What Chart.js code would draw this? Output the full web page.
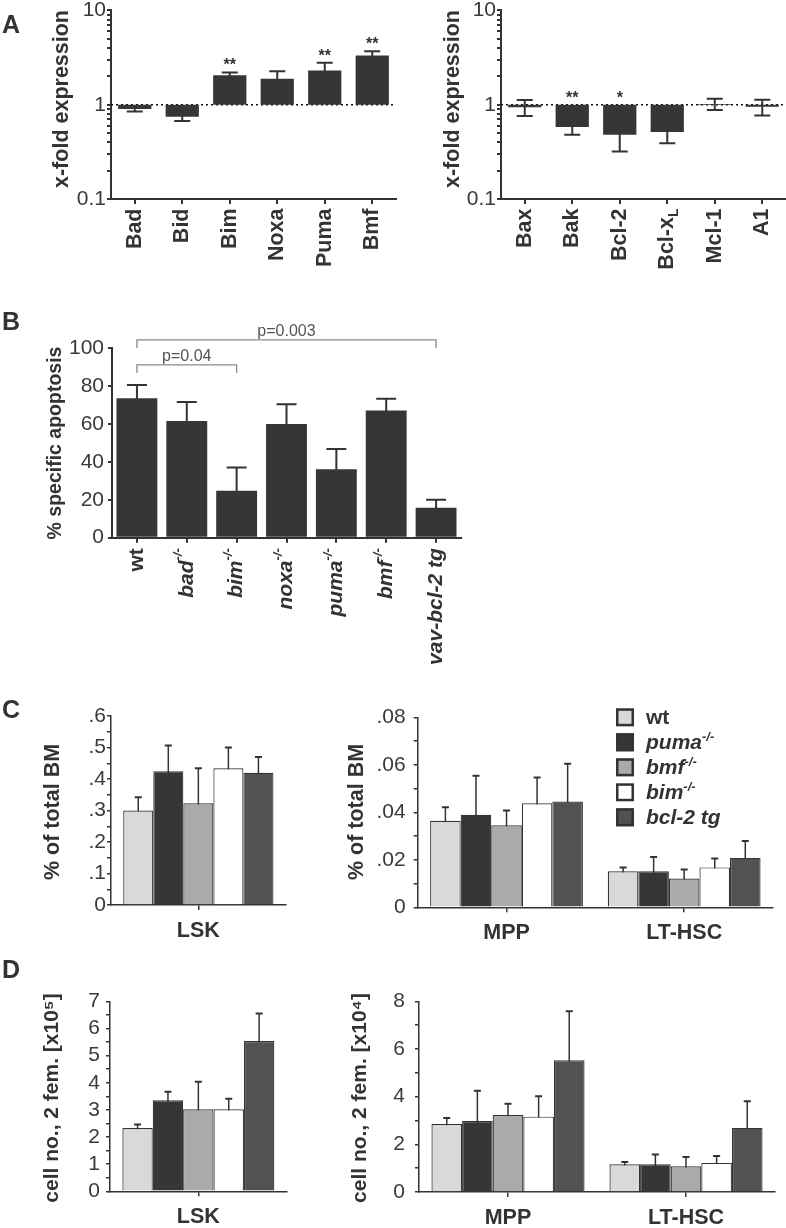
<!DOCTYPE html>
<html>
<head>
<meta charset="utf-8">
<script src="https://cdn.jsdelivr.net/npm/chart.js@4.4.0/dist/chart.umd.min.js"></script>
<style>
  body { margin: 0; background: #fff; width: 786px; height: 1228px; position: relative; overflow: hidden; }
  canvas { position: absolute; }
</style>
</head>
<body>
<canvas id="a1" style="left:0px;top:0px" width="400" height="300"></canvas>
<canvas id="a2" style="left:400px;top:0px" width="386" height="300"></canvas>
<canvas id="b" style="left:0px;top:300px" width="480" height="380"></canvas>
<canvas id="c1" style="left:0px;top:680px" width="300" height="270"></canvas>
<canvas id="c2" style="left:300px;top:680px" width="486" height="270"></canvas>
<canvas id="d1" style="left:0px;top:950px" width="300" height="278"></canvas>
<canvas id="d2" style="left:300px;top:950px" width="486" height="278"></canvas>
<script>
// ---- A: x-fold expression (log scale), pro-apoptotic BH3-only
const genesA1 = ['Bad', 'Bid', 'Bim', 'Noxa', 'Puma', 'Bmf'];
const foldA1 = [0.90, 0.745, 2.05, 1.89, 2.30, 3.32];
const semA1 = [0.05, 0.075, 0.15, 0.37, 0.48, 0.37];
const starsA1 = ['', '', '**', '', '**', '**'];
// ---- A: multi-domain / anti-apoptotic (Bcl-x_L -> subscript L)
const genesA2 = ['Bax', 'Bak', 'Bcl-2', 'Bcl-x_L', 'Mcl-1', 'A1'];
const foldA2 = [0.94, 0.58, 0.48, 0.515, 1.02, 0.95];
const semA2 = [0.18, 0.10, 0.16, 0.125, 0.14, 0.18];
const starsA2 = ['', '**', '*', '', '', ''];
const logTicks = [0.1, 1, 10];
const logTickLabels = ['0.1', '1', '10'];

// ---- B: % specific apoptosis
const genotypesB = ['wt', 'bad', 'bim', 'noxa', 'puma', 'bmf', 'vav-bcl-2 tg'];
const apoptosisB = [73.6, 61.6, 24.8, 60.0, 36.1, 67.1, 15.8];
const semB = [7.0, 10.1, 12.3, 10.4, 10.7, 6.3, 4.3];
const pValuesB = [
  { from: 0, to: 2, text: 'p=0.04', at: 91.2 },
  { from: 0, to: 6, text: 'p=0.003', at: 104.4 }
];
const yTicksB = [0, 20, 40, 60, 80, 100];
const yLabelsB = ['0', '20', '40', '60', '80', '100'];

// ---- C / D: one value per genotype (wt, puma, bmf, bim, bcl-2 tg)
const genotypesCD = ['wt', 'puma', 'bmf', 'bim', 'bcl-2 tg'];
const pctLSK = [0.30, 0.425, 0.323, 0.434, 0.42];
const pctLSKsem = [0.042, 0.081, 0.111, 0.066, 0.05];
const pctMPP = [0.0364, 0.0390, 0.0345, 0.0438, 0.0445];
const pctMPPsem = [0.0057, 0.0164, 0.0063, 0.0109, 0.0159];
const pctLT = [0.0152, 0.0152, 0.0121, 0.0168, 0.0208];
const pctLTsem = [0.0016, 0.0060, 0.0038, 0.0038, 0.0071];
const noLSK = [2.33, 3.35, 3.02, 3.02, 5.54];   // x10^5
const noLSKsem = [0.13, 0.32, 1.02, 0.39, 1.01];
const noMPP = [2.85, 2.98, 3.23, 3.16, 5.53];   // x10^4
const noMPPsem = [0.25, 1.27, 0.47, 0.86, 2.05];
const noLT = [1.16, 1.16, 1.08, 1.22, 2.69];
const noLTsem = [0.10, 0.41, 0.39, 0.29, 1.12];

const yTicksC1 = [0, 0.1, 0.2, 0.3, 0.4, 0.5, 0.6];
const yLabelsC1 = ['0', '.1', '.2', '.3', '.4', '.5', '.6'];
const yTicksC2 = [0, 0.02, 0.04, 0.06, 0.08];
const yLabelsC2 = ['0', '.02', '.04', '.06', '.08'];
const yTicksD1 = [0, 1, 2, 3, 4, 5, 6, 7];
const yLabelsD1 = ['0', '1', '2', '3', '4', '5', '6', '7'];
const yTicksD2 = [0, 2, 4, 6, 8];
const yLabelsD2 = ['0', '2', '4', '6', '8'];

const FONT = '"Liberation Sans", Arial, Helvetica, sans-serif';
const INK = '#333333';
const BAR = '#363636';
const groupColors = ['#d9d9d9', '#363636', '#aaaaaa', '#ffffff', '#525252'];

// rich text: list of {t, font, dy}
function drawParts(ctx, parts, x, y, align) {
  let w = 0;
  parts.forEach(p => { ctx.font = p.font; p.w = ctx.measureText(p.t).width; w += p.w; });
  let cx = align === 'right' ? x - w : (align === 'center' ? x - w / 2 : x);
  ctx.textAlign = 'left';
  parts.forEach(p => { ctx.font = p.font; ctx.fillText(p.t, cx, y + (p.dy || 0)); cx += p.w; });
}
function genoParts(name, size) {
  const up = 'bold ' + size + 'px ' + FONT;
  const it = 'italic bold ' + size + 'px ' + FONT;
  const sup = 'italic bold ' + Math.round(size * 0.6) + 'px ' + FONT;
  if (name === 'wt') return [{ t: name, font: up }];
  if (name.endsWith(' tg')) return [{ t: name, font: it }];
  return [{ t: name, font: it }, { t: '-/-', font: sup, dy: -size * 0.38 }];
}
function geneParts(name, size) {
  const s = name.split('_');
  const parts = [{ t: s[0], font: 'bold ' + size + 'px ' + FONT }];
  if (s[1]) parts.push({ t: s[1], font: 'bold ' + Math.round(size * 0.65) + 'px ' + FONT, dy: size * 0.3 });
  return parts;
}

const decoById = {};
const deco = {
  id: 'deco',
  beforeDatasetsDraw(chart) {
    const o = decoById[chart.canvas.id] || {};
    const ctx = chart.ctx, ys = chart.scales.y, ca = chart.chartArea;
    ctx.save();
    if (o.refLine) {
      const y = ys.getPixelForValue(o.refLine);
      ctx.strokeStyle = '#111'; ctx.lineWidth = 1.5; ctx.setLineDash([2, 3]);
      ctx.beginPath(); ctx.moveTo(ca.left, y); ctx.lineTo(ca.right, y); ctx.stroke();
      ctx.setLineDash([]);
    }
    chart.data.datasets.forEach((ds, di) => {
      if (!ds.sem) return;
      chart.getDatasetMeta(di).data.forEach((el, i) => {
        const m = ds.mean[i], s = ds.sem[i];
        const yt = ys.getPixelForValue(m + s), yb = ys.getPixelForValue(m - s);
        ctx.strokeStyle = INK;
        ctx.lineWidth = o.stemW;
        ctx.beginPath(); ctx.moveTo(el.x, yt); ctx.lineTo(el.x, yb); ctx.stroke();
        ctx.lineWidth = o.capW;
        ctx.beginPath();
        ctx.moveTo(el.x - o.cap, yt); ctx.lineTo(el.x + o.cap, yt);
        ctx.moveTo(el.x - o.cap, yb); ctx.lineTo(el.x + o.cap, yb);
        ctx.stroke();
      });
    });
    ctx.restore();
  },
  afterDraw(chart) {
    const o = decoById[chart.canvas.id] || {};
    const ctx = chart.ctx, xs = chart.scales.x, ys = chart.scales.y, ca = chart.chartArea;
    ctx.save();
    ctx.fillStyle = INK;
    ctx.textBaseline = 'alphabetic';
    if (o.letter) {
      ctx.font = 'bold 25px ' + FONT; ctx.textAlign = 'left';
      ctx.fillText(o.letter.text, o.letter.x, o.letter.y);
    }
    if (o.title) {
      ctx.save();
      ctx.translate(o.title.x, o.title.y); ctx.rotate(-Math.PI / 2);
      ctx.textAlign = 'center'; ctx.textBaseline = 'middle';
      ctx.font = o.title.font;
      ctx.fillText(o.title.text, 0, 0);
      ctx.restore();
    }
    if (o.stars) {
      ctx.font = 'bold 16px ' + FONT; ctx.textAlign = 'center';
      o.stars.labels.forEach((t, i) => {
        if (!t) return;
        const top = Math.min(ys.getPixelForValue(o.stars.mean[i] + o.stars.sem[i]), ys.getPixelForValue(1));
        ctx.fillText(t, xs.getPixelForValue(i), top - 2);
      });
    }
    if (o.xLabels) {
      ctx.fillStyle = INK;
      o.xLabels.names.forEach((n, i) => {
        ctx.save();
        ctx.translate(xs.getPixelForValue(i), ca.bottom + o.xLabels.gap);
        ctx.rotate(-Math.PI / 2);
        ctx.textBaseline = 'middle';
        drawParts(ctx, o.xLabels.parts(n, o.xLabels.size), 0, 0, 'right');
        ctx.restore();
      });
    }
    if (o.brackets) {
      o.brackets.forEach(b => {
        const y = ys.getPixelForValue(b.at);
        const x1 = xs.getPixelForValue(b.from), x2 = xs.getPixelForValue(b.to);
        ctx.strokeStyle = '#8a8a8a'; ctx.lineWidth = 1.3;
        ctx.beginPath();
        ctx.moveTo(x1, y + 8); ctx.lineTo(x1, y); ctx.lineTo(x2, y); ctx.lineTo(x2, y + 8);
        ctx.stroke();
        ctx.fillStyle = '#555'; ctx.font = '16px ' + FONT; ctx.textAlign = 'center';
        ctx.fillText(b.text, (x1 + x2) / 2, y - 4);
      });
    }
    if (o.legend) {
      const L = o.legend;
      chart.data.datasets.forEach((ds, i) => {
        const y = L.y + i * L.step;
        ctx.fillStyle = ds.backgroundColor;
        ctx.fillRect(L.x, y, L.box, L.box);
        ctx.strokeStyle = INK; ctx.lineWidth = 2.5;
        ctx.strokeRect(L.x + 1.25, y + 1.25, L.box - 2.5, L.box - 2.5);
        ctx.fillStyle = INK;
        drawParts(ctx, genoParts(genotypesCD[i], 21), L.textX, y + L.box - 2, 'left');
      });
    }
    ctx.restore();
  }
};

function withMinors(majors) {
  const out = [];
  majors.forEach((v, i) => {
    out.push(v);
    if (i < majors.length - 1) out.push((v + majors[i + 1]) / 2);
  });
  return out;
}
function logMinors(majors) {
  const out = [];
  majors.forEach((v, i) => {
    out.push(v);
    if (i < majors.length - 1) for (let d = 2; d <= 9; d++) out.push(+(v * d).toPrecision(3));
  });
  return out;
}

function makeChart(id, W, H, area, cfg) {
  decoById[id] = cfg.deco;
  const tickFont = { family: FONT, size: 21, lineHeight: 0.9 };
  const allTicks = cfg.minor;
  const yScale = Object.assign({
    grid: { drawOnChartArea: false, tickLength: 4, color: INK, lineWidth: cfg.axisW },
    border: { color: INK, width: cfg.axisW },
    ticks: {
      autoSkip: false, padding: cfg.yPad, font: tickFont, color: '#3a3a3a',
      callback: v => {
        const k = cfg.majors.findIndex(m => Math.abs(m - v) < 1e-9);
        return k >= 0 ? cfg.majorLabels[k] : '';
      }
    },
    afterBuildTicks: s => { s.ticks = allTicks.map(v => ({ value: v })); },
    afterFit: s => { s.width = area.left; }
  }, cfg.y);
  return new Chart(document.getElementById(id), {
    type: 'bar',
    data: { labels: cfg.labels, datasets: cfg.datasets },
    options: {
      responsive: false, animation: false, events: [],
      layout: { padding: { left: 0, top: area.top, right: W - area.right, bottom: 0 } },
      plugins: { legend: { display: false }, tooltip: { enabled: false } },
      scales: {
        x: {
          type: 'category', offset: true,
          grid: { offset: false, drawOnChartArea: false, tickLength: 5, color: INK, lineWidth: cfg.axisW },
          border: { color: INK, width: cfg.axisW },
          ticks: cfg.xTicks,
          afterFit: s => { s.height = H - area.bottom; }
        },
        y: yScale
      }
    },
    plugins: [deco]
  });
}

// ---------- panel A ----------
function logPanel(id, W, area, genes, fold, sem, stars, letter, titleX) {
  makeChart(id, W, 300, area, {
    labels: genes,
    datasets: [{
      data: fold.map(v => [1, v]), mean: fold, sem: sem,
      backgroundColor: BAR, borderWidth: 0, barPercentage: 0.7, categoryPercentage: 1
    }],
    axisW: 2, yPad: 1,
    y: { type: 'logarithmic', min: 0.1, max: 10 },
    majors: logTicks, majorLabels: logTickLabels, minor: logMinors(logTicks),
    xTicks: { display: false },
    deco: {
      letter: letter, refLine: 1, stemW: 2, capW: 2, cap: 8,
      title: { text: 'x-fold expression', x: titleX, y: 99, font: 'bold 21.5px ' + FONT },
      stars: { labels: stars, mean: fold, sem: sem },
      xLabels: { names: genes, gap: 9.5, size: 21.5, parts: geneParts }
    }
  });
}
logPanel('a1', 400, { left: 111, top: 10, right: 396, bottom: 199 }, genesA1, foldA1, semA1, starsA1,
  { text: 'A', x: 2, y: 33 }, 62);
logPanel('a2', 386, { left: 101, top: 10, right: 386, bottom: 199 }, genesA2, foldA2, semA2, starsA2,
  null, 53);

// ---------- panel B ----------
makeChart('b', 480, 380, { left: 112, top: 48.3, right: 461, bottom: 237.7 }, {
  labels: genotypesB,
  datasets: [{
    data: apoptosisB, mean: apoptosisB, sem: semB,
    backgroundColor: BAR, borderWidth: 0, barPercentage: 0.82, categoryPercentage: 1
  }],
  axisW: 2, yPad: 4,
  y: { min: 0, max: 100 },
  majors: yTicksB, majorLabels: yLabelsB, minor: yTicksB,
  xTicks: { display: false },
  deco: {
    letter: { text: 'B', x: 2, y: 30 }, stemW: 2, capW: 2, cap: 10,
    title: { text: '% specific apoptosis', x: 56, y: 143, font: 'bold 19.5px ' + FONT },
    xLabels: { names: genotypesB, gap: 10.5, size: 21, parts: genoParts },
    brackets: pValuesB
  }
});

// ---------- panels C / D ----------
function groupSets(cols, sems) {
  return genotypesCD.map((g, k) => ({
    label: g,
    data: cols.map(c => c[k]), mean: cols.map(c => c[k]), sem: sems.map(c => c[k]),
    backgroundColor: groupColors[k], borderColor: INK, borderWidth: 1.2,
    barPercentage: 1, categoryPercentage: 0.86
  }));
}
const catTicks = { font: { family: FONT, size: 21.5, weight: 'bold' }, color: INK, padding: 8, maxRotation: 0 };

makeChart('c1', 300, 270, { left: 111, top: 36, right: 285.7, bottom: 225 }, {
  labels: ['LSK'], datasets: groupSets([pctLSK], [pctLSKsem]),
  axisW: 1.5, yPad: 1,
  y: { min: 0, max: 0.6 },
  majors: yTicksC1, majorLabels: yLabelsC1, minor: withMinors(yTicksC1),
  xTicks: catTicks,
  deco: {
    letter: { text: 'C', x: 2, y: 38 }, stemW: 1.5, capW: 2, cap: 3.5,
    title: { text: '% of total BM', x: 53.5, y: 132, font: 'bold 21.5px ' + FONT }
  }
});
makeChart('c2', 486, 270, { left: 117.7, top: 37.3, right: 473, bottom: 227.3 }, {
  labels: ['MPP', 'LT-HSC'], datasets: groupSets([pctMPP, pctLT], [pctMPPsem, pctLTsem]),
  axisW: 1.5, yPad: 8,
  y: { min: 0, max: 0.08 },
  majors: yTicksC2, majorLabels: yLabelsC2, minor: withMinors(yTicksC2),
  xTicks: catTicks,
  deco: {
    stemW: 1.5, capW: 2, cap: 3.5,
    title: { text: '% of total BM', x: 57, y: 132, font: 'bold 21.5px ' + FONT },
    legend: { x: 316, y: 28.3, step: 25, box: 18, textX: 346 }
  }
});
makeChart('d1', 300, 278, { left: 110, top: 51.3, right: 286.7, bottom: 241.3 }, {
  labels: ['LSK'], datasets: groupSets([noLSK], [noLSKsem]),
  axisW: 1.5, yPad: 6,
  y: { min: 0, max: 7 },
  majors: yTicksD1, majorLabels: yLabelsD1, minor: withMinors(yTicksD1),
  xTicks: catTicks,
  deco: {
    letter: { text: 'D', x: 2, y: 28 }, stemW: 1.5, capW: 2, cap: 3.5,
    title: { text: 'cell no., 2 fem. [x10⁵]', x: 52, y: 148, font: 'bold 21px ' + FONT }
  }
});
makeChart('d2', 486, 278, { left: 119, top: 51.3, right: 475, bottom: 242 }, {
  labels: ['MPP', 'LT-HSC'], datasets: groupSets([noMPP, noLT], [noMPPsem, noLTsem]),
  axisW: 1.5, yPad: 10,
  y: { min: 0, max: 8 },
  majors: yTicksD2, majorLabels: yLabelsD2, minor: withMinors(yTicksD2),
  xTicks: catTicks,
  deco: {
    stemW: 1.5, capW: 2, cap: 3.5,
    title: { text: 'cell no., 2 fem. [x10⁴]', x: 60, y: 148, font: 'bold 21px ' + FONT }
  }
});
</script>
</body>
</html>
